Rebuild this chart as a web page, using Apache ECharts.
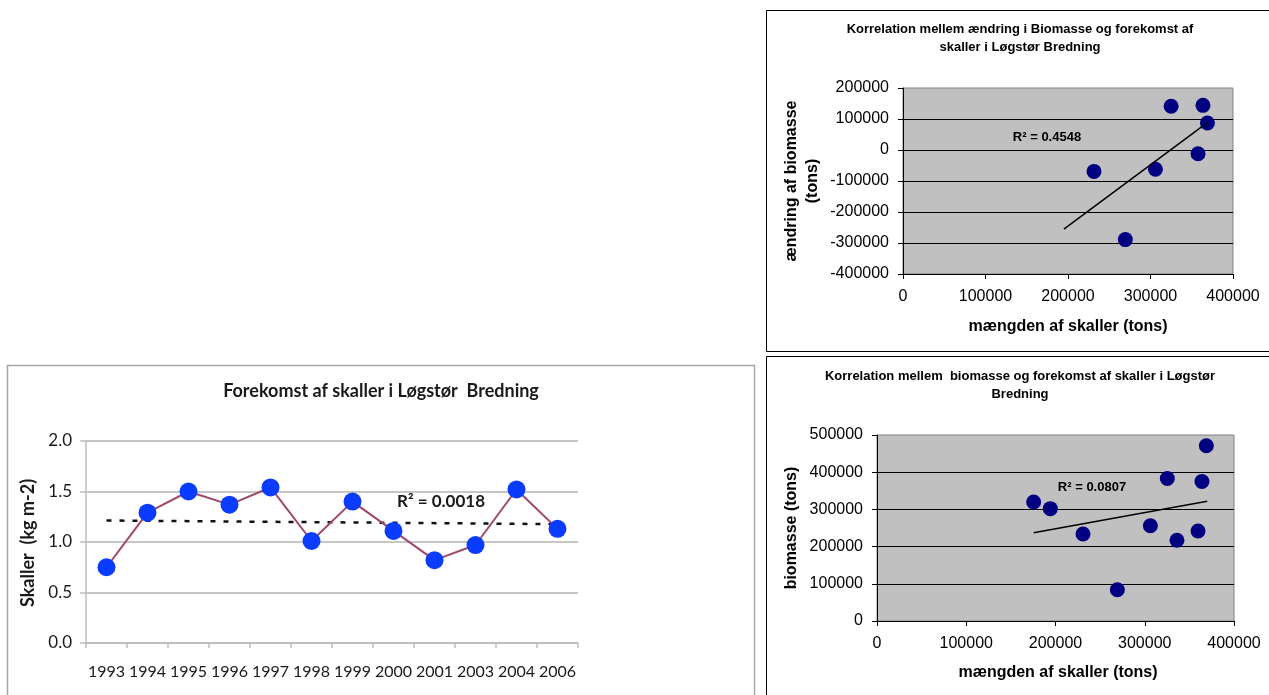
<!DOCTYPE html>
<html><head><meta charset="utf-8">
<script src="https://cdn.jsdelivr.net/npm/echarts@6/dist/echarts.min.js"></script>
<style>html,body{margin:0;padding:0;background:#fff}#c{width:1269px;height:695px}</style>
</head><body><div id="c"></div>
<script>
// Chart A (top right): change in biomass vs amount of shells
const shellsA = [231500, 269500, 306000, 325000, 357600, 363600, 369000];
const changeA = [-69000, -289000, -62000, 141000, -12000, 144000, 87000];
const trendAx = [195000, 369700];
const trendAy = [-255000, 90000];
const r2A = 'R² = 0.4548';
const xTicksA = [0, 100000, 200000, 300000, 400000];
const yTicksA = [-400000, -300000, -200000, -100000, 0, 100000, 200000];

// Chart B (bottom right): biomass vs amount of shells
const shellsB = [175500, 194200, 230800, 269300, 306300, 325300, 336100, 359700, 364100, 369000];
const biomassB = [320000, 302000, 234000, 84000, 256000, 383000, 217000, 242000, 375000, 471000];
const trendBx = [175500, 370000];
const trendBy = [237500, 321700];
const r2B = 'R² = 0.0807';
const yTicksB = [0, 100000, 200000, 300000, 400000, 500000];

// Chart C (bottom left): shells per year
const years = ['1993','1994','1995','1996','1997','1998','1999','2000','2001','2003','2004','2006'];
const shellsC = [0.75, 1.29, 1.50, 1.37, 1.54, 1.01, 1.40, 1.11, 0.82, 0.97, 1.52, 1.13];
const trendC = [1.213, 1.177];
const r2C = 'R² = 0.0018';
const yTicksC = [0, 0.5, 1.0, 1.5, 2.0];

const ARIAL = '"Liberation Sans", Arial, sans-serif';
const CAL = 'Lato, "Open Sans", sans-serif';

function txt(x, y, text, size, weight, family, extra) {
  return Object.assign({
    type: 'text', x: x, y: y, z: 100,
    style: Object.assign({
      text: text, fontSize: size, fontWeight: weight, fontFamily: family,
      fill: '#000', textAlign: 'center', align: 'center',
      textVerticalAlign: 'middle', verticalAlign: 'middle'
    }, extra && extra.style || {})
  }, extra && extra.el || {});
}

const valAxisRight = (gi, min, max, interval, isY, margin) => ({
  type: 'value', gridIndex: gi, min: min, max: max, interval: interval,
  axisLine: { show: true, onZero: false, lineStyle: { color: '#000', width: 1 } },
  axisTick: { show: true, length: 5, lineStyle: { color: '#000', width: 1 } },
  axisLabel: { color: '#000', fontFamily: ARIAL, fontSize: 16, margin: margin, formatter: v => String(v) },
  splitLine: isY ? { show: true, showMaxLine: false, showMinLine: false, lineStyle: { color: '#000', width: 1 } } : { show: false }
});

const chart = echarts.init(document.getElementById('c'), null, { renderer: 'canvas' });
chart.setOption({
  animation: false,
  backgroundColor: '#fff',
  grid: [
    { left: 903, top: 88, width: 330, height: 186, show: true, backgroundColor: '#c0c0c0', borderColor: '#808080', borderWidth: 1, containLabel: false },
    { left: 877, top: 435, width: 357, height: 186, show: true, backgroundColor: '#c0c0c0', borderColor: '#808080', borderWidth: 1, containLabel: false },
    { left: 86, top: 441, width: 492, height: 202, containLabel: false }
  ],
  xAxis: [
    valAxisRight(0, xTicksA[0], xTicksA[xTicksA.length - 1], 100000, false, 15),
    valAxisRight(1, xTicksA[0], xTicksA[xTicksA.length - 1], 100000, false, 15),
    {
      type: 'category', gridIndex: 2, data: years, boundaryGap: true,
      axisLine: { show: true, lineStyle: { color: '#bdbdbd', width: 1.5 } },
      axisTick: { show: true, length: 5, lineStyle: { color: '#bdbdbd', width: 1.5 } },
      axisLabel: { color: '#1a1a1a', fontFamily: CAL, fontSize: 16, margin: 21, interval: 0 },
      splitLine: { show: false }
    }
  ],
  yAxis: [
    valAxisRight(0, yTicksA[0], yTicksA[yTicksA.length - 1], 100000, true, 14),
    valAxisRight(1, yTicksB[0], yTicksB[yTicksB.length - 1], 100000, true, 14),
    {
      type: 'value', gridIndex: 2, min: yTicksC[0], max: yTicksC[yTicksC.length - 1], interval: 0.5,
      axisLine: { show: true, lineStyle: { color: '#bdbdbd', width: 1.5 } },
      axisTick: { show: true, length: 6, lineStyle: { color: '#bdbdbd', width: 1.5 } },
      axisLabel: { color: '#1a1a1a', fontFamily: CAL, fontSize: 17, margin: 14, formatter: v => v.toFixed(1) },
      splitLine: { show: true, lineStyle: { color: '#c6c6c6', width: 2 } }
    }
  ],
  series: [
    { type: 'scatter', xAxisIndex: 0, yAxisIndex: 0, symbolSize: 15, itemStyle: { color: '#000080', opacity: 1 },
      data: shellsA.map((v, i) => [v, changeA[i]]), z: 3 },
    { type: 'line', xAxisIndex: 0, yAxisIndex: 0, symbol: 'none', lineStyle: { color: '#000', width: 1.5 },
      data: trendAx.map((v, i) => [v, trendAy[i]]), z: 4 },
    { type: 'scatter', xAxisIndex: 1, yAxisIndex: 1, symbolSize: 15, itemStyle: { color: '#000080', opacity: 1 },
      data: shellsB.map((v, i) => [v, biomassB[i]]), z: 3 },
    { type: 'line', xAxisIndex: 1, yAxisIndex: 1, symbol: 'none', lineStyle: { color: '#000', width: 1.5 },
      data: trendBx.map((v, i) => [v, trendBy[i]]), z: 4 },
    { type: 'line', xAxisIndex: 2, yAxisIndex: 2, symbol: 'none', lineStyle: { color: '#111', width: 2.5, type: [5, 8] },
      data: [[years[0], trendC[0]], [years[years.length - 1], trendC[1]]], z: 2 },
    { type: 'line', xAxisIndex: 2, yAxisIndex: 2, symbol: 'circle', symbolSize: 18,
      lineStyle: { color: '#a0476c', width: 2 }, itemStyle: { color: '#0a3cff', borderWidth: 0 },
      data: shellsC, z: 3 }
  ],
  graphic: [
    { type: 'rect', shape: { x: 766.5, y: 10.5, width: 620, height: 341 }, style: { fill: 'none', stroke: '#000', lineWidth: 1 }, z: 0 },
    { type: 'rect', shape: { x: 766.5, y: 356.5, width: 620, height: 400 }, style: { fill: 'none', stroke: '#000', lineWidth: 1 }, z: 0 },
    { type: 'rect', shape: { x: 7.5, y: 365.5, width: 747, height: 400 }, style: { fill: 'none', stroke: '#a6a6a6', lineWidth: 1.5 }, z: 0 },
    txt(1020, 38, 'Korrelation mellem ændring i Biomasse og forekomst af\nskaller i Løgstør Bredning', 13, 'bold', ARIAL, { style: { lineHeight: 18 } }),
    txt(1068, 327, 'mængden af skaller (tons)', 16, 'bold', ARIAL),
    txt(802, 181, 'ændring af biomasse\n(tons)', 16, 'bold', ARIAL, { style: { lineHeight: 21 }, el: { rotation: Math.PI / 2 } }),
    txt(1047, 137, r2A, 13, 'bold', ARIAL),
    txt(1020, 385, 'Korrelation mellem  biomasse og forekomst af skaller i Løgstør\nBredning', 13, 'bold', ARIAL, { style: { lineHeight: 18 } }),
    txt(1058, 673, 'mængden af skaller (tons)', 16, 'bold', ARIAL),
    txt(792, 528, 'biomasse (tons)', 16, 'bold', ARIAL, { el: { rotation: Math.PI / 2 } }),
    txt(1092, 487, r2B, 13, 'bold', ARIAL),
    txt(381, 391, 'Forekomst af skaller i Løgstør  Bredning', 18, 'bold', CAL, { style: { fill: '#1a1a1a' } }),
    txt(28, 543, 'Skaller  (kg m-2)', 18, 'bold', CAL, { style: { fill: '#1a1a1a' }, el: { rotation: Math.PI / 2 } }),
    txt(441, 502, r2C, 17, 'bold', CAL, { style: { fill: '#1a1a1a' } })
  ]
});
</script>
</body></html>
